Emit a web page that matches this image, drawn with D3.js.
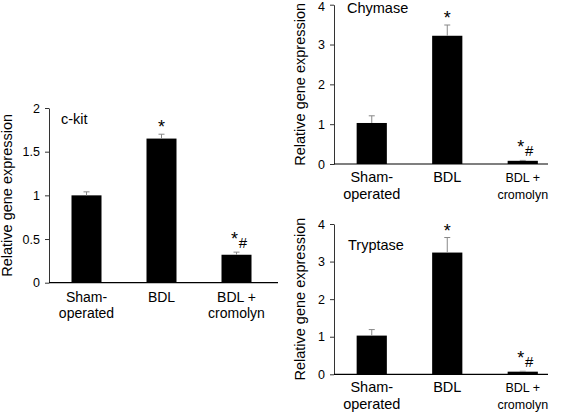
<!DOCTYPE html>
<html><head><meta charset="utf-8">
<script src="https://cdn.jsdelivr.net/npm/d3@7"></script>
<style>
html,body{margin:0;padding:0;background:#fff;}
svg text{font-family:"Liberation Sans",Arial,sans-serif;fill:#000;}
</style></head>
<body><svg id="c" width="562" height="413"></svg>
<script>
const categories = ["Sham-operated", "BDL", "BDL + cromolyn"];
const catLines = [["Sham-", "operated"], ["BDL"], ["BDL +", "cromolyn"]];
const ckitValues = [1.0, 1.65, 0.32];
const ckitErrors = [0.04, 0.05, 0.03];
const ckitTicks = [0, 0.5, 1, 1.5, 2];
const chymaseValues = [1.03, 3.22, 0.08];
const chymaseErrors = [0.18, 0.27, 0.01];
const chymaseTicks = [0, 1, 2, 3, 4];
const tryptaseValues = [1.03, 3.24, 0.07];
const tryptaseErrors = [0.16, 0.40, 0.01];
const tryptaseTicks = [0, 1, 2, 3, 4];
const marks = ["", "*", "*#"];

const svg = d3.select("#c");

function panel(o) {
  const g = svg.append("g");
  const y = d3.scaleLinear().domain([0, o.max]).range([o.y0, o.y1]);
  const x = d3.scaleBand().domain(categories).range([o.x0, o.x0 + o.step * 3])
    .paddingInner(0.6).paddingOuter(0.3);
  // y axis
  const ay = g.append("g").attr("transform", `translate(${o.x0},0)`)
    .call(d3.axisLeft(y).tickValues(o.ticks).tickSize(4).tickSizeOuter(0).tickPadding(5)
      .tickFormat(d => String(d)));
  ay.select(".domain").attr("stroke", "#333");
  ay.selectAll(".tick line").attr("stroke", "#333");
  ay.selectAll("text").style("font-size", "12.5px").attr("fill", "#111")
    .attr("dy", d => (d === o.max && o.y1 < 8) ? "0.45em" : "0.32em");
  // x axis line
  g.append("line").attr("x1", o.x0).attr("x2", o.xEnd).attr("y1", y(0)).attr("y2", y(0))
    .attr("stroke", "#000").attr("stroke-width", 1.2);
  // bars
  g.selectAll("rect.bar").data(o.values).enter().append("rect")
    .attr("x", (d, i) => x(categories[i])).attr("width", x.bandwidth())
    .attr("y", d => y(d)).attr("height", d => y(0) - y(d)).attr("fill", "#000");
  // error bars
  o.values.forEach((v, i) => {
    const cx = x(categories[i]) + x.bandwidth() / 2;
    const top = y(v + o.errors[i]);
    g.append("line").attr("x1", cx).attr("x2", cx).attr("y1", y(v)).attr("y2", top)
      .attr("stroke", "#888").attr("stroke-width", 1);
    g.append("line").attr("x1", cx - 3).attr("x2", cx + 3).attr("y1", top).attr("y2", top)
      .attr("stroke", "#888").attr("stroke-width", 1);
    // significance marks
    if (marks[i] === "*") {
      g.append("text").attr("x", cx).attr("y", top - 1).attr("text-anchor", "middle")
        .style("font-size", "18px").text("*");
    } else if (marks[i] === "*#") {
      g.append("text").attr("x", cx - 2).attr("y", top - 7).attr("text-anchor", "middle")
        .style("font-size", "18px").text("*");
      g.append("text").attr("x", cx + 6.5).attr("y", top - 4).attr("text-anchor", "middle")
        .style("font-size", "15px").text("#");
    }
  });
  // x labels
  catLines.forEach((lines, i) => {
    const cx = x(categories[i]) + x.bandwidth() / 2;
    const fs = (i === 2 && o.smallLast) ? 12.5 : o.labelSize;
    const t = g.append("text").attr("text-anchor", "middle").style("font-size", fs + "px");
    lines.forEach((l, j) => {
      t.append("tspan").attr("x", cx).attr("y", y(0) + o.labelDy + j * o.lineH).text(l);
    });
  });
  // title
  g.append("text").attr("x", o.titleX).attr("y", o.titleY).style("font-size", "14.5px").text(o.title);
  // y label
  g.append("text").attr("transform", `translate(${o.ylabX},${(o.y0 + o.y1) / 2}) rotate(-90)`)
    .attr("text-anchor", "middle").style("font-size", "14.5px").text("Relative gene expression");
}

panel({values: ckitValues, errors: ckitErrors, ticks: ckitTicks, max: 2,
  x0: 49, step: 75, xEnd: 278, y0: 282.7, y1: 108, title: "c-kit", titleX: 61, titleY: 124,
  ylabX: 12, labelSize: 14, labelDy: 19, lineH: 16.5, smallLast: false});
panel({values: chymaseValues, errors: chymaseErrors, ticks: chymaseTicks, max: 4,
  x0: 334, step: 75.5, xEnd: 548, y0: 164, y1: 4.7, title: "Chymase", titleX: 347, titleY: 13,
  ylabX: 305, labelSize: 14.5, labelDy: 18, lineH: 17, smallLast: true});
panel({values: tryptaseValues, errors: tryptaseErrors, ticks: tryptaseTicks, max: 4,
  x0: 334, step: 75.5, xEnd: 548, y0: 374.3, y1: 224, title: "Tryptase", titleX: 348, titleY: 250,
  ylabX: 305, labelSize: 14.5, labelDy: 18, lineH: 17, smallLast: true});
</script></body></html>
